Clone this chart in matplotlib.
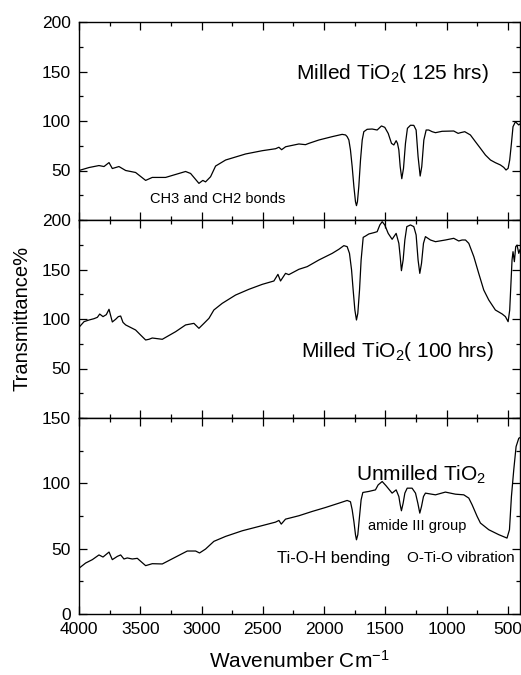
import matplotlib
matplotlib.use('Agg')
import matplotlib.pyplot as plt
from matplotlib.ticker import MultipleLocator

DPI = 100

plt.rcParams['font.family'] = ['Liberation Sans', 'DejaVu Sans']
plt.rcParams['mathtext.default'] = 'regular'

# Milled TiO2 (125 hrs) - top panel
wn_125 = [4000, 3918, 3837, 3796, 3755, 3728, 3674, 3619, 3538, 3456, 3402, 3293, 3130, 3089,
          3021, 2989, 2967, 2926, 2885, 2803, 2640, 2504, 2395, 2368, 2346, 2313, 2205, 2151,
          2124, 2042, 1933, 1852, 1824, 1811, 1797, 1784, 1770, 1756, 1743, 1735, 1727, 1716,
          1702, 1688, 1675, 1648, 1607, 1566, 1531, 1504, 1476, 1449, 1430, 1411, 1400, 1389,
          1378, 1365, 1351, 1335, 1319, 1294, 1267, 1248, 1232, 1215, 1202, 1185, 1166, 1145,
          1117, 1090, 1036, 941, 905, 886, 851, 805, 764, 723, 682, 641, 601, 560, 533, 514,
          497, 484, 470, 457, 437, 424, 410, 400]
tr_125 = [50, 53, 55, 54, 58, 52, 54, 50, 48, 40, 43, 43, 49, 47,
          37, 40, 38.5, 43.7, 54.5, 60.6, 66.7, 70, 72, 73.5, 71, 74, 76.8, 76.1,
          77.4, 80.8, 84.2, 86.5, 85.9, 84.2, 80.8, 70.7, 53.9, 33.7, 18.5, 14.5, 18.5, 33.7,
          60.6, 80.8, 89.2, 91.6, 91.9, 90.9, 95, 93.6, 87.5, 77.4, 75.8, 80.1, 77.4, 70.7,
          53.9, 41.7, 52.2, 77.4, 92.6, 95.7, 95.6, 90.9, 64, 44.4, 53.9, 80.8, 90.9, 90.9,
          89.2, 88.2, 89.6, 89.9, 87.5, 88.2, 89.2, 85.9, 79.1, 72.4, 65.6, 60.6, 57.9, 55.6, 53.2, 50.5,
          52.2, 60.6, 77.4, 94.3, 99.3, 97.6, 96, 97]

# Milled TiO2 (100 hrs) - middle panel
wn_100 = [4000, 3959, 3918, 3878, 3850, 3831, 3804, 3777, 3755, 3728, 3701, 3679, 3660, 3641,
          3619, 3592, 3538, 3497, 3456, 3429, 3402, 3320, 3211, 3130, 3062, 3021, 2980, 2939,
          2899, 2831, 2722, 2613, 2504, 2409, 2376, 2355, 2314, 2287, 2205, 2137, 2042, 1933,
          1879, 1838, 1811, 1792, 1775, 1762, 1748, 1735, 1724, 1710, 1697, 1680, 1661, 1634,
          1593, 1566, 1544, 1525, 1504, 1476, 1444, 1411, 1389, 1378, 1368, 1354, 1340, 1324,
          1294, 1267, 1248, 1232, 1218, 1204, 1188, 1172, 1131, 1090, 1009, 941, 900, 873, 845,
          818, 777, 737, 696, 655, 601, 546, 519, 497, 484, 465, 457, 446, 435, 424, 410, 400]
tr_100 = [91.6, 97.3, 99, 100.3, 101.7, 105, 102.4, 104.4, 109.8, 97, 99.7, 102.4, 103, 96.6,
          94, 92.3, 88.9, 83.8, 78.8, 79.5, 80.8, 79.5, 87.2, 94, 95.6, 90.6, 95.6, 100.7,
          109.1, 115.8, 124.2, 130, 135, 138.4, 145.1, 138.4, 146.1, 144.8, 150.2, 152.9, 159.6, 166.3,
          170.4, 174.1, 173.1, 166.3, 149.5, 129.3, 109.1, 99, 105.7, 129.3, 159.6, 182.5, 183.8, 185.9,
          187.2, 188.2, 195, 198.3, 195, 186.5, 180.5, 186.5, 176.4, 163, 148.8, 159.6, 179.8, 193.3,
          195, 193.3, 184.9, 159.6, 146.1, 156.2, 176.4, 183.2, 179.8, 178.1, 179.8, 181.5, 178.8, 179.8, 179.8,
          176.4, 163, 146.1, 129.3, 119.2, 109.1, 105.1, 102.4, 97.3, 109.1, 159.6, 168, 157.9, 173.1, 174.7, 166.3, 170]

# Unmilled TiO2 - bottom panel
wn_un = [4000, 3946, 3891, 3837, 3804, 3755, 3728, 3687, 3660, 3633, 3606, 3565, 3524, 3456,
         3402, 3320, 3211, 3116, 3048, 3016, 2967, 2899, 2803, 2667, 2531, 2396, 2368, 2349,
         2314, 2205, 2096, 1988, 1879, 1811, 1784, 1770, 1756, 1743, 1735, 1724, 1710, 1697,
         1683, 1634, 1580, 1558, 1525, 1493, 1444, 1411, 1389, 1378, 1368, 1354, 1340, 1321,
         1281, 1253, 1234, 1218, 1204, 1188, 1172, 1090, 1009, 927, 859, 818, 791, 750, 723,
         655, 573, 506, 486, 470, 451, 432, 410, 400]
tr_un = [35, 39, 41.6, 45.2, 43.6, 47.4, 41.6, 44.1, 45.2, 42.1, 42.9, 42.1, 42.6, 37,
         38.5, 38.3, 43.6, 48.2, 48.2, 46.7, 49.7, 55.6, 59.4, 63.7, 67, 70.3, 71.6, 68.8,
         72.6, 75.2, 78.5, 81.5, 84.8, 86.9, 85.9, 79.8, 70.8, 60.7, 56.8, 60.7, 74.7, 87.4,
         93, 93.8, 95, 98.8, 101.4, 98.1, 92.5, 95, 89.9, 83.6, 79, 84.8, 92.5, 96.3,
         96.3, 92.5, 84.8, 77.2, 82.3, 89.9, 92.5, 91.2, 93.3, 91.7, 91.2, 88.7, 83.6, 74.7, 69.6,
         64.5, 60.7, 58.1, 64.5, 89.9, 110.3, 128.1, 134.5, 135]

# Panel limits and labels
panel_wn = [wn_125, wn_100, wn_un]
panel_tr = [tr_125, tr_100, tr_un]
panel_ymax = [200, 200, 150]
panel_ticks = [[50, 100, 150, 200], [50, 100, 150, 200], [0, 50, 100, 150]]
panel_titles = ['Milled TiO$_2$( 125 hrs)', 'Milled TiO$_2$( 100 hrs)', 'Unmilled TiO$_2$']
title_pos = [(1442, 142), (1403, 62), (1204, 102)]

# Extra annotations: (panel, text, wavenumber, value, fontsize)
notes = [
    (0, 'CH3 and CH2 bonds', 2866, 17, 10.5),
    (2, 'amide III group', 1237, 64.5, 10.5),
    (2, 'Ti-O-H bending', 1922, 39, 12),
    (2, 'O-Ti-O vibration', 887, 39.5, 11),
]

# Positions of the axes in figure pixels
W, H = 521, 675
LEFT, RIGHT = 79, 520
EDGES = [22, 220, 418, 614]

fig = plt.figure(figsize=(W / DPI, H / DPI), dpi=DPI)

axes = []
for i in range(3):
    top, bot = EDGES[i], EDGES[i + 1]
    ax = fig.add_axes([LEFT / W, 1 - bot / H, (RIGHT - LEFT) / W, (bot - top) / H])
    ax.plot(panel_wn[i], panel_tr[i], color='black', lw=0.9)

    ax.set_xlim(4000, 400)
    ax.set_ylim(0, panel_ymax[i])
    ax.set_yticks(panel_ticks[i])
    ax.yaxis.set_minor_locator(MultipleLocator(25))
    ax.xaxis.set_major_locator(MultipleLocator(500))
    ax.xaxis.set_minor_locator(MultipleLocator(250))

    ax.tick_params(which='both', direction='in', top=True, right=True, width=0.9, labelsize=12.5)
    ax.tick_params(which='major', length=6, pad=6)
    ax.tick_params(which='minor', length=3)
    for s in ax.spines.values():
        s.set_linewidth(1.0)

    if i < 2:
        ax.tick_params(labelbottom=False)

    ax.text(title_pos[i][0], title_pos[i][1], panel_titles[i], fontsize=15,
            ha='center', va='baseline')
    axes.append(ax)

for p, txt, x, y, fs in notes:
    axes[p].text(x, y, txt, fontsize=fs, ha='center', va='baseline')

axes[2].set_xlabel('Wavenumber Cm$^{-1}$', fontsize=15, labelpad=9)
fig.text(22 / W, 1 - 318 / H, 'Transmittance%', fontsize=14.5, rotation=90,
         ha='center', va='center')

plt.savefig('out.png', dpi=DPI)
plt.close()
